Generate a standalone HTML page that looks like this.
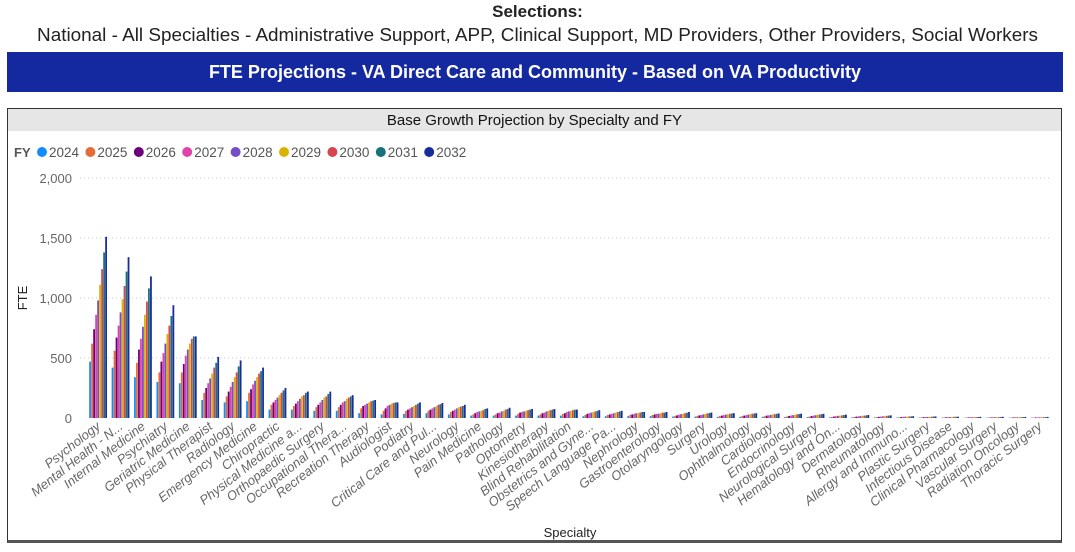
<!DOCTYPE html>
<html><head><meta charset="utf-8"><style>
body{margin:0;width:1075px;height:552px;background:#fff;font-family:"Liberation Sans",sans-serif;overflow:hidden;position:relative}
.t1{position:absolute;left:0;width:1075px;top:2px;text-align:center;font-size:17px;font-weight:bold;color:#222}
.t2{position:absolute;left:0;width:1075px;top:25px;text-align:center;font-size:18.9px;color:#222}
.banner{position:absolute;left:7px;top:52px;width:1056px;height:40px;background:#1428A0;color:#fff;font-weight:bold;font-size:18px;text-align:center;line-height:40px}
.panel{position:absolute;left:7px;top:108px;width:1053px;height:431px;border:1.5px solid #333;border-bottom:3px solid #555}
.ptitle{position:absolute;left:0;top:0;width:100%;height:22px;background:#e6e6e6;text-align:center;font-size:15px;line-height:23px;color:#111}
svg{position:absolute;left:0;top:0}
</style></head><body>
<div class="t1">Selections:</div>
<div class="t2">National - All Specialties - Administrative Support, APP, Clinical Support, MD Providers, Other Providers, Social Workers</div>
<div class="banner">FTE Projections - VA Direct Care and Community - Based on VA Productivity</div>
<div class="panel"><div class="ptitle">Base Growth Projection by Specialty and FY</div></div>
<svg id="chart" width="1075" height="552"></svg>
<script>
const categories=["Psychology","Mental Health - N...","Internal Medicine","Psychiatry","Geriatric Medicine","Physical Therapist","Radiology","Emergency Medicine","Chiropractic","Physical Medicine a...","Orthopaedic Surgery","Occupational Thera...","Recreation Therapy","Audiologist","Podiatry","Critical Care and Pul...","Neurology","Pain Medicine","Pathology","Optometry","Kinesiotherapy","Blind Rehabilitation","Obstetrics and Gyne...","Speech Language Pa...","Nephrology","Gastroenterology","Otolaryngology","Surgery","Urology","Ophthalmology","Cardiology","Endocrinology","Neurological Surgery","Hematology and On...","Dermatology","Rheumatology","Allergy and Immuno...","Plastic Surgery","Infectious Disease","Clinical Pharmacology","Vascular Surgery","Radiation Oncology","Thoracic Surgery"];
const years=["2024","2025","2026","2027","2028","2029","2030","2031","2032"];
const colors=["#118DFF","#E66C37","#6B007B","#E044A7","#744EC2","#D9B300","#D64550","#197278","#1A2B9C"];
const values=[
[470,620,740,860,980,1110,1240,1380,1510],
[420,560,670,770,880,990,1100,1220,1340],
[340,460,570,660,760,860,970,1080,1180],
[300,380,470,540,620,700,770,850,940],
[290,380,450,520,570,620,660,680,680],
[150,210,250,290,330,370,420,460,510],
[130,180,220,260,300,340,380,430,480],
[140,210,240,280,310,340,370,390,420],
[70,110,130,150,170,190,210,230,250],
[70,100,120,140,160,180,190,210,220],
[60,90,110,130,150,170,180,200,220],
[60,90,110,130,140,160,170,180,190],
[40,80,100,110,120,130,140,145,150],
[30,60,80,100,110,120,125,130,130],
[35,60,70,80,90,100,110,120,130],
[40,60,70,80,90,100,110,115,125],
[30,50,60,70,80,90,95,100,110],
[20,30,40,50,55,60,65,75,80],
[20,30,40,45,55,60,70,75,85],
[20,35,45,50,55,60,65,70,75],
[20,30,40,45,55,60,65,70,75],
[20,35,40,50,55,60,65,70,70],
[15,25,35,40,45,50,55,60,65],
[15,25,30,35,40,45,50,55,60],
[15,25,30,35,40,40,45,50,50],
[15,25,30,35,35,40,45,45,50],
[12,18,22,28,32,36,40,44,50],
[12,18,22,26,30,34,38,42,45],
[10,16,20,24,28,32,35,38,40],
[10,16,20,24,28,32,35,38,40],
[10,15,20,22,26,30,32,35,38],
[8,13,17,21,24,27,30,33,36],
[8,12,16,20,23,26,29,32,35],
[6,9,12,15,18,20,22,25,28],
[6,9,11,14,16,18,20,22,25],
[5,8,10,12,14,16,18,20,22],
[4,6,8,10,11,12,13,14,15],
[4,6,7,8,9,10,11,12,13],
[3,5,6,7,8,9,10,10,11],
[3,4,5,6,7,8,8,9,10],
[3,4,5,6,7,7,8,9,10],
[3,4,5,6,6,7,8,8,9],
[3,4,5,5,6,7,7,8,9]];
const yTicks=[0,500,1000,1500,2000];
const yTickLabels=["0","500","1,000","1,500","2,000"];

const NS="http://www.w3.org/2000/svg";
const svg=document.getElementById('chart');
const y0=418,yMax=2000,plotH=240,x0=87,x1=1051;
const band=(x1-x0)/categories.length;
function yS(v){return y0-v/yMax*plotH;}
function xC(i){return x0+band*(i+0.5);}
function mk(tag,attrs,text){const e=document.createElementNS(NS,tag);for(const k in attrs)e.setAttribute(k,attrs[k]);if(text!==undefined)e.textContent=text;svg.appendChild(e);return e;}

yTicks.forEach((t,i)=>{
  if(t>0){const g=mk('line',{x1:80,x2:1052,y1:yS(t),y2:yS(t),stroke:'#c8c8c8','stroke-dasharray':'1,3'});
  
  }
  const l=mk('text',{x:72,y:yS(t)+5,'text-anchor':'end','font-size':'13',fill:'#666'},yTickLabels[i]);
  
  
});
const yt=mk('text',{x:27,y:298,'text-anchor':'middle','font-size':'13',fill:'#222',transform:'rotate(-90 27 298)'},'FTE');


const xt=mk('text',{x:570,y:537,'text-anchor':'middle','font-size':'13',fill:'#222'},'Specialty');



const bw=2;
categories.forEach((c,i)=>{
  const cx=xC(i);
  values[i].forEach((v,j)=>{
    const x=cx-9*bw/2+j*bw;
    const r=mk('rect',{x:x,y:yS(v),width:bw-0.2,height:y0-yS(v),fill:colors[j]});
    
    
  });
  const tx=cx+3,ty=428;
  const l=mk('text',{x:tx,y:ty,'text-anchor':'end','font-size':'13',fill:'#666','font-style':'italic',transform:'rotate(-38 '+tx+' '+ty+')'},c);
  
  
});

const fy=mk('text',{x:14,y:157,'font-size':'13','font-weight':'bold',fill:'#555'},'FY');


years.forEach((yr,j)=>{
  const lx=42+j*48.4;
  const c=mk('circle',{cx:lx,cy:152,r:5,fill:colors[j]});
  
  
  const t=mk('text',{x:lx+7,y:157,'font-size':'13.5',fill:'#555'},yr);
  
  
});
</script>
</body></html>
